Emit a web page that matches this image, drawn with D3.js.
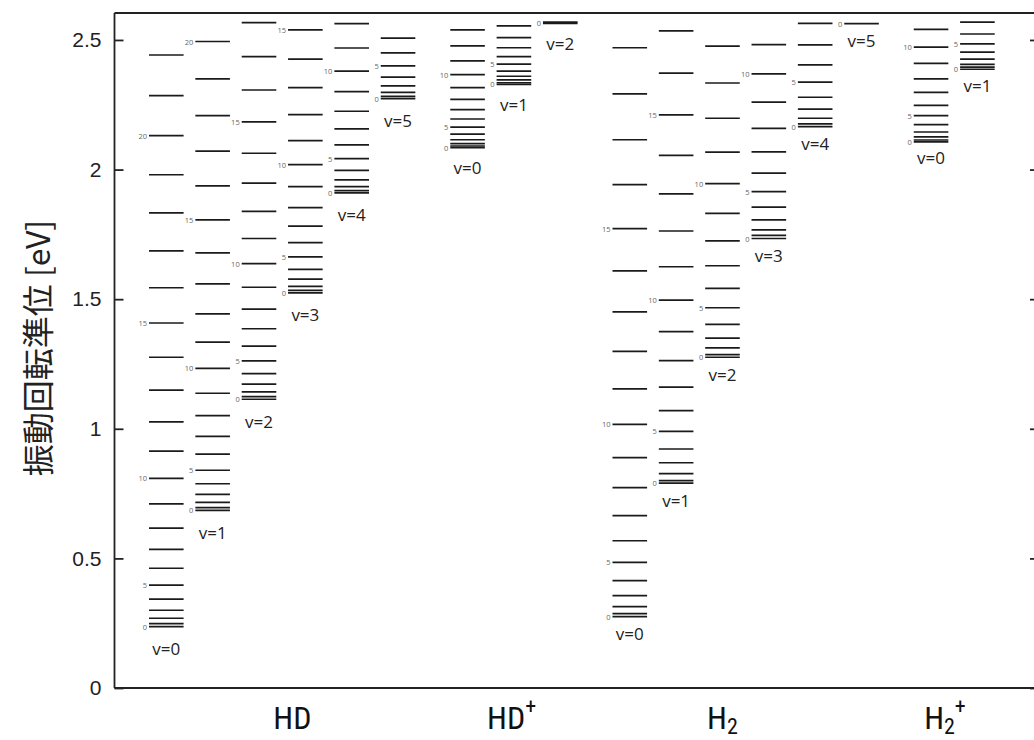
<!DOCTYPE html>
<html>
<head>
<meta charset="utf-8">
<script src="https://cdn.jsdelivr.net/npm/d3@7/dist/d3.min.js"></script>
<style>
  html, body { margin: 0; padding: 0; background: #fff; }
  svg { display: block; }
</style>
</head>
<body>
<svg id="chart" width="1034" height="740"></svg>
<script>
// ---------- DATA (energies in eV, index = rotational quantum number J) ----------
const HD_v0 = [0.237,0.248,0.269,0.300,0.343,0.397,0.462,0.535,0.617,0.710,0.809,0.914,1.027,1.149,1.276,1.408,1.544,1.686,1.833,1.980,2.131,2.285,2.442];
const HD_v1 = [0.685,0.696,0.716,0.747,0.788,0.840,0.902,0.971,1.051,1.137,1.233,1.334,1.443,1.559,1.679,1.806,1.937,2.071,2.208,2.350,2.494];
const HD_v2 = [1.114,1.124,1.142,1.172,1.213,1.262,1.319,1.386,1.462,1.546,1.637,1.734,1.839,1.948,2.063,2.184,2.307,2.436,2.567];
const HD_v3 = [1.524,1.534,1.549,1.577,1.615,1.663,1.718,1.782,1.853,1.934,2.019,2.112,2.212,2.316,2.426,2.539];
const HD_v4 = [1.910,1.919,1.934,1.960,1.997,2.042,2.095,2.157,2.225,2.301,2.380,2.469,2.563];
const HD_v5 = [2.274,2.282,2.298,2.323,2.357,2.400,2.450,2.507];
const HDp_v0 = [2.085,2.091,2.100,2.115,2.137,2.164,2.195,2.231,2.271,2.316,2.366,2.419,2.477,2.539];
const HDp_v1 = [2.329,2.335,2.346,2.360,2.380,2.407,2.436,2.470,2.509,2.554];
const HDp_v2 = [2.564,2.569];
const H2_v0 = [0.275,0.287,0.314,0.356,0.414,0.485,0.568,0.665,0.773,0.889,1.017,1.154,1.299,1.451,1.609,1.772,1.942,2.115,2.292,2.470];
const H2_v1 = [0.790,0.800,0.827,0.869,0.922,0.990,1.070,1.161,1.263,1.375,1.496,1.625,1.763,1.906,2.055,2.211,2.372,2.535];
const H2_v2 = [1.276,1.286,1.312,1.350,1.403,1.467,1.542,1.629,1.725,1.831,1.946,2.067,2.198,2.334,2.476];
const H2_v3 = [1.734,1.746,1.767,1.806,1.855,1.915,1.986,2.068,2.159,2.260,2.369,2.482];
const H2_v4 = [2.166,2.176,2.198,2.233,2.279,2.337,2.404,2.481,2.564];
const H2_v5 = [2.563];
const H2p_v0 = [2.107,2.114,2.126,2.145,2.173,2.208,2.248,2.298,2.350,2.410,2.472,2.541];
const H2p_v1 = [2.387,2.395,2.406,2.426,2.453,2.485,2.523,2.569];

const molecules = ["HD", "HD+", "H2", "H2+"];
const moleculeSeries = {
  "HD":  [HD_v0, HD_v1, HD_v2, HD_v3, HD_v4, HD_v5],
  "HD+": [HDp_v0, HDp_v1, HDp_v2],
  "H2":  [H2_v0, H2_v1, H2_v2, H2_v3, H2_v4, H2_v5],
  "H2+": [H2p_v0, H2p_v1]
};
const yTicks = [0, 0.5, 1, 1.5, 2, 2.5];
const yTickLabels = ["0", "0.5", "1", "1.5", "2", "2.5"];
const yTitle = "振動回転準位 [eV]";
const jLabelStep = 5;

// ---------- LAYOUT ----------
const W = 1034, H = 740;
const plot = { left: 114.5, right: 1037, top: 13, bottom: 688 };
const groupGap = 1.5;   // slot gap between molecules
const halfLine = 17.3;
const labelCfg = {
  "HD":  { anchorSlot: 2.72, vOff: 22 },
  "HD+": { anchorSlot: 7.45, vOff: 20 },
  "H2":  { anchorSlot: 12.0, vOff: 17 },
  "H2+": { anchorSlot: 16.8, vOff: 16 }
};

const columns = [];
let slot = 0;
molecules.forEach((m, mi) => {
  if (mi > 0) slot += groupGap - 1;
  moleculeSeries[m].forEach((levels, v) => {
    columns.push({ mol: m, v, slot, levels });
    slot += 1;
  });
});
const maxSlot = slot - 1;

const y = d3.scaleLinear().domain([0, 2.604]).range([plot.bottom, plot.top]);
const x = d3.scaleLinear().domain([0, maxSlot]).range([166.3, 977.4]);

const svg = d3.select("#chart");
svg.append("rect").attr("width", W).attr("height", H).attr("fill", "#fff");

const axisColor = "#222";
svg.append("line").attr("x1", plot.left).attr("x2", W + 5).attr("y1", plot.top).attr("y2", plot.top)
  .attr("stroke", axisColor).attr("stroke-width", 1.8);
svg.append("line").attr("x1", plot.left).attr("x2", W + 5).attr("y1", plot.bottom).attr("y2", plot.bottom)
  .attr("stroke", axisColor).attr("stroke-width", 1.8);

const leftAxis = d3.axisLeft(y).tickValues(yTicks).tickFormat((d, i) => yTickLabels[i])
  .tickSizeInner(-9).tickSizeOuter(0).tickPadding(13);
const gL = svg.append("g").attr("transform", `translate(${plot.left},0)`).call(leftAxis);
gL.select(".domain").attr("stroke", axisColor).attr("stroke-width", 1.8)
  .attr("d", `M0,${plot.top}V${plot.bottom}`);
gL.selectAll(".tick line").attr("stroke", axisColor).attr("stroke-width", 1.8);
gL.selectAll(".tick text").attr("font-family", "'Liberation Sans', Arial, sans-serif")
  .attr("font-size", 21).attr("fill", "#222");

const rightAxis = d3.axisRight(y).tickValues(yTicks).tickFormat("").tickSizeInner(-7).tickSizeOuter(0);
const gR = svg.append("g").attr("transform", `translate(${plot.right},0)`).call(rightAxis);
gR.select(".domain").attr("stroke", axisColor).attr("stroke-width", 1.8);
gR.selectAll(".tick line").attr("stroke", axisColor).attr("stroke-width", 1.8);

svg.append("text")
  .attr("transform", `translate(36,${348}) rotate(-90)`)
  .attr("text-anchor", "middle").attr("dominant-baseline", "central")
  .attr("font-family", "'Noto Sans CJK JP', 'Noto Sans', sans-serif")
  .attr("font-size", 32).attr("fill", "#222")
  .text(yTitle);

const gCols = svg.append("g");
columns.forEach(col => {
  const cx = x(col.slot);
  const g = gCols.append("g");
  g.selectAll("line.lvl").data(col.levels).enter().append("line")
    .attr("class", "lvl")
    .attr("x1", cx - halfLine).attr("x2", cx + halfLine)
    .attr("y1", d => y(d)).attr("y2", d => y(d))
    .attr("stroke", "#1a1a1a").attr("stroke-width", 1.7);
  const jl = col.levels.map((e, J) => ({ e, J })).filter(d => d.J % jLabelStep === 0);
  g.selectAll("text.jl").data(jl).enter().append("text")
    .attr("class", "jl")
    .attr("x", cx - halfLine - 2).attr("y", d => y(d.e))
    .attr("text-anchor", "end").attr("dominant-baseline", "central")
    .attr("font-family", "'Open Sans', sans-serif").attr("font-size", 7.5)
    .attr("fill", "#666").text(d => d.J);
  g.append("text")
    .attr("x", cx).attr("y", y(col.levels[0]) + labelCfg[col.mol].vOff)
    .attr("text-anchor", "middle").attr("dominant-baseline", "central")
    .attr("font-family", "'Open Sans', sans-serif").attr("font-size", 17)
    .attr("fill", "#222").text("v=" + col.v);
});

const molFont = "'Liberation Sans Narrow', 'Roboto Condensed', 'Liberation Sans', Arial, sans-serif";
molecules.forEach(m => {
  const t = svg.append("text")
    .attr("x", x(labelCfg[m].anchorSlot)).attr("y", 729)
    .attr("text-anchor", "middle")
    .attr("font-family", molFont).attr("font-size", 32).attr("fill", "#111");
  const base = m.replace("+", "").replace("2", "");
  t.append("tspan").text(base);
  if (m.includes("2")) {
    t.append("tspan").attr("font-size", 22).attr("dy", 5).text("2");
  }
  if (m.includes("+")) {
    t.append("tspan").attr("font-size", 22).attr("dy", m.includes("2") ? -20 : -15).text("+");
  }
});
</script>
</body>
</html>
